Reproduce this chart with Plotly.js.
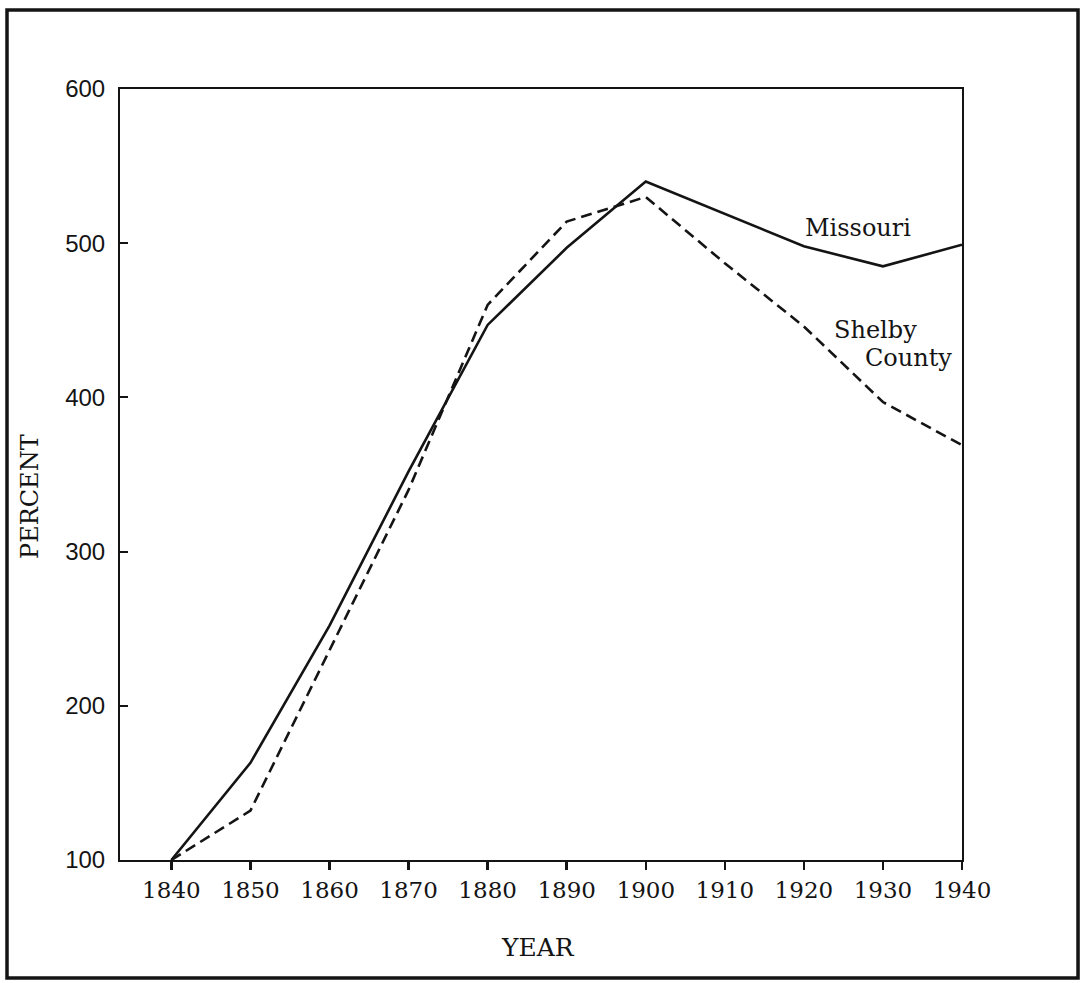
<!DOCTYPE html>
<html>
<head>
<meta charset="utf-8">
<script src="https://cdn.plot.ly/plotly-3.0.1.min.js"></script>
<style>
  html, body { margin: 0; padding: 0; background: #ffffff; }
  #chart { width: 1081px; height: 983px; }
</style>
</head>
<body>
<div id="chart"></div>
<script>
// Data
const years = [1840, 1850, 1860, 1870, 1880, 1890, 1900, 1910, 1920, 1930, 1940];
const missouri = [100, 163, 252, 352, 447, 497, 540, 519, 498, 485, 499];
const shelbyCounty = [100, 132, 236, 340, 460, 514, 530, 487, 446, 397, 369];
const yearTicks = [1840, 1850, 1860, 1870, 1880, 1890, 1900, 1910, 1920, 1930, 1940];
const percentTicks = [100, 200, 300, 400, 500, 600];

const serif = "DejaVu Serif, Liberation Serif, serif";
const sans = "Liberation Sans, Arial, sans-serif";
const ink = "#141414";

const traces = [
  {
    x: years, y: missouri, type: "scatter", mode: "lines", name: "Missouri",
    line: { color: ink, width: 2.6 }
  },
  {
    x: years, y: shelbyCounty, type: "scatter", mode: "lines", name: "Shelby County",
    line: { color: ink, width: 2.6, dash: "11px,6px" }
  }
];

const layout = {
  width: 1081, height: 983,
  margin: { l: 120, r: 119, t: 89, b: 123 },
  paper_bgcolor: "#ffffff", plot_bgcolor: "#ffffff",
  showlegend: false,
  xaxis: {
    range: [1833.5, 1940], tickvals: yearTicks, ticktext: yearTicks.map(String),
    ticks: "outside", ticklen: 8, tickwidth: 2.5, tickcolor: ink,
    showline: true, linecolor: ink, linewidth: 2, mirror: true,
    showgrid: false, zeroline: false,
    tickfont: { family: serif, size: 23, color: ink }
  },
  yaxis: {
    range: [100, 600], tickvals: percentTicks, ticktext: percentTicks.map(String),
    ticks: "inside", ticklen: 8, tickwidth: 2, tickcolor: ink,
    ticklabelstandoff: 8,
    showline: true, linecolor: ink, linewidth: 2, mirror: true,
    showgrid: false, zeroline: false,
    tickfont: { family: sans, size: 24, color: ink }
  },
  shapes: [
    { type: "rect", xref: "paper", yref: "paper",
      x0: -0.1342, x1: 1.1378, y0: -0.1530, y1: 1.1025,
      line: { color: ink, width: 3.5 } }
  ],
  annotations: [
    { text: "PERCENT", xref: "paper", yref: "paper", x: -0.107, y: 0.472,
      textangle: -90, showarrow: false, xanchor: "center", yanchor: "middle",
      font: { family: serif, size: 24, color: ink } },
    { text: "YEAR", xref: "paper", yref: "paper", x: 0.496, y: -0.114,
      showarrow: false, xanchor: "center", yanchor: "middle",
      font: { family: serif, size: 25, color: ink } },
    { text: "Missouri", xref: "x", yref: "y", x: 1926.8, y: 510,
      showarrow: false, xanchor: "center", yanchor: "middle",
      font: { family: serif, size: 24, color: ink } },
    { text: "Shelby", xref: "x", yref: "y", x: 1929.0, y: 443.5,
      showarrow: false, xanchor: "center", yanchor: "middle",
      font: { family: serif, size: 24, color: ink } },
    { text: "County", xref: "x", yref: "y", x: 1933.2, y: 425.5,
      showarrow: false, xanchor: "center", yanchor: "middle",
      font: { family: serif, size: 24, color: ink } }
  ]
};

Plotly.newPlot("chart", traces, layout, { displayModeBar: false, staticPlot: true });
</script>
</body>
</html>
